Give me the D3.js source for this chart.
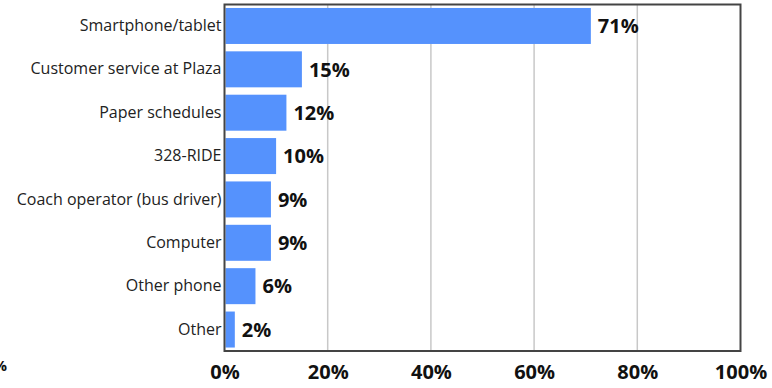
<!DOCTYPE html>
<html>
<head>
<meta charset="utf-8">
<script src="https://cdn.jsdelivr.net/npm/d3@7"></script>
<style>
  html, body { margin: 0; padding: 0; background: #fff; }
  svg { display: block; }
</style>
</head>
<body>
<svg id="chart" width="772" height="388"></svg>
<script>
// How riders get trip information (share of respondents)
const categories = [
  "Smartphone/tablet",
  "Customer service at Plaza",
  "Paper schedules",
  "328-RIDE",
  "Coach operator (bus driver)",
  "Computer",
  "Other phone",
  "Other"
];
const values = [71, 15, 12, 10, 9, 9, 6, 2];
const xTicks = [0, 20, 40, 60, 80, 100];

const svg = d3.select("#chart");
const plot = { left: 224.5, right: 740.5, top: 4.5, bottom: 351 };
const font = "'Open Sans', 'DejaVu Sans', sans-serif";

const x = d3.scaleLinear().domain([0, 100]).range([plot.left, plot.right]);
const y = d3.scaleBand().domain(categories)
  .range([plot.top, plot.bottom])
  .paddingInner(0.17)
  .paddingOuter(0.08);

// vertical gridlines
svg.append("g")
  .selectAll("line")
  .data(xTicks.filter(t => t > 0 && t < 100))
  .join("line")
  .attr("x1", d => x(d)).attr("x2", d => x(d))
  .attr("y1", plot.top).attr("y2", plot.bottom)
  .attr("stroke", "#c8c8c8")
  .attr("stroke-width", 1.5);

// bars
svg.append("g")
  .selectAll("rect")
  .data(values)
  .join("rect")
  .attr("x", x(0) + 1)
  .attr("y", (d, i) => y(categories[i]))
  .attr("width", d => x(d) - x(0) - 1)
  .attr("height", y.bandwidth())
  .attr("fill", "#5592fd");

// value labels
svg.append("g")
  .selectAll("text")
  .data(values)
  .join("text")
  .attr("x", d => x(d) + 7)
  .attr("y", (d, i) => y(categories[i]) + y.bandwidth() / 2)
  .attr("dy", "0.36em")
  .attr("font-family", font)
  .attr("font-weight", "bold")
  .attr("font-size", 20)
  .attr("fill", "#111")
  .text(d => d + "%");

// plot frame
svg.append("rect")
  .attr("x", plot.left).attr("y", plot.top)
  .attr("width", plot.right - plot.left)
  .attr("height", plot.bottom - plot.top)
  .attr("fill", "none")
  .attr("stroke", "#444")
  .attr("stroke-width", 2);

// category axis
const yAxis = d3.axisLeft(y).tickSize(0).tickPadding(3);
const gy = svg.append("g")
  .attr("transform", `translate(${plot.left},0)`)
  .call(yAxis);
gy.select(".domain").remove();
gy.selectAll("text")
  .attr("font-family", font)
  .attr("font-size", 16)
  .attr("fill", "#222");

// value axis
const xAxis = d3.axisBottom(x).tickValues(xTicks).tickSize(0).tickPadding(14)
  .tickFormat(d => d + "%");
const gx = svg.append("g")
  .attr("transform", `translate(0,${plot.bottom})`)
  .call(xAxis);
gx.select(".domain").remove();
gx.selectAll("text")
  .attr("font-family", font)
  .attr("font-weight", "bold")
  .attr("font-size", 20)
  .attr("fill", "#111");

// percent sign partly off the left edge
svg.append("text")
  .attr("x", 7).attr("y", 371)
  .attr("text-anchor", "end")
  .attr("font-family", font)
  .attr("font-weight", "bold")
  .attr("font-size", 15)
  .attr("fill", "#111")
  .text("%");
</script>
</body>
</html>
